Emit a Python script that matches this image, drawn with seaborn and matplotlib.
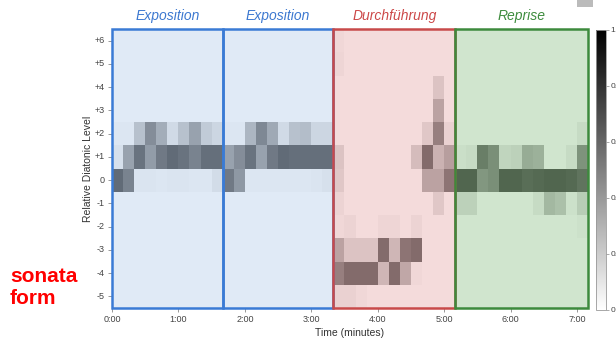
import numpy as np
import pandas as pd
import matplotlib
matplotlib.use("Agg")
import matplotlib.pyplot as plt
from matplotlib.patches import Rectangle
import seaborn as sns

sns.set_style("white")
plt.rcParams["font.family"] = ["Liberation Sans", "DejaVu Sans"]

# ---- data -----------------------------------------------------------
levels = ["+6", "+5", "+4", "+3", "+2", "+1", "0", "-1", "-2", "-3", "-4", "-5"]
bins_per_minute = 6
n_bins = 43

# intensity per level (rows, top to bottom) and time bin (10 s each)
row_p6 = [0]*20 + [0.02] + [0]*22
row_p5 = [0]*20 + [0.03] + [0]*22
row_p4 = [0]*29 + [0.12] + [0]*13
row_p3 = [0]*29 + [0.28] + [0]*13
row_p2 = ([0.02, 0.02, 0.2, 0.45, 0.3, 0.08, 0.2, 0.35, 0.15, 0.1]
          + [0.02, 0.02, 0.25, 0.48, 0.32, 0.08, 0.2, 0.22, 0.1, 0.1]
          + [0, 0, 0, 0, 0, 0, 0, 0, 0.1, 0.45, 0.05]
          + [0, 0, 0, 0, 0, 0, 0, 0, 0, 0, 0, 0.05])
row_p1 = ([0.05, 0.35, 0.58, 0.38, 0.55, 0.62, 0.58, 0.5, 0.6, 0.6]
          + [0.35, 0.45, 0.58, 0.35, 0.55, 0.62, 0.6, 0.6, 0.6, 0.6]
          + [0.12, 0, 0, 0, 0, 0, 0, 0.15, 0.55, 0.2, 0.3]
          + [0.03, 0.05, 0.5, 0.42, 0.08, 0.1, 0.28, 0.25, 0, 0, 0.05, 0.4])
row_0 = ([0.62, 0.5, 0.03, 0.03, 0.02, 0.03, 0.03, 0.02, 0.02, 0.07]
         + [0.55, 0.4, 0.02, 0.02, 0.02, 0.02, 0.02, 0.02, 0.03, 0.05]
         + [0.1, 0, 0, 0, 0, 0, 0, 0, 0.28, 0.28, 0.5]
         + [0.62, 0.62, 0.38, 0.42, 0.62, 0.62, 0.58, 0.6, 0.62, 0.62, 0.6, 0.55])
row_m1 = ([0]*20
          + [0.04, 0, 0, 0, 0, 0, 0, 0, 0, 0.1, 0]
          + [0.1, 0.1, 0, 0, 0, 0, 0, 0.05, 0.22, 0.18, 0.02, 0.12])
row_m2 = ([0]*20
          + [0.02, 0.04, 0, 0, 0.03, 0.03, 0, 0.04, 0, 0, 0]
          + [0]*11 + [0.02])
row_m3 = ([0]*20
          + [0.28, 0.12, 0.12, 0.12, 0.55, 0.18, 0.5, 0.55, 0, 0, 0]
          + [0]*12)
row_m4 = ([0]*20
          + [0.45, 0.55, 0.55, 0.55, 0.18, 0.55, 0.25, 0.02, 0, 0, 0]
          + [0]*12)
row_m5 = ([0]*20
          + [0.05, 0.05, 0.02, 0, 0, 0, 0, 0, 0, 0, 0]
          + [0]*12)

minute_ticks = [0, 1, 2, 3, 4, 5, 6, 7]
minute_labels = ["0:00", "1:00", "2:00", "3:00", "4:00", "5:00", "6:00", "7:00"]

section_names = ["Exposition", "Exposition", "Durchführung", "Reprise"]
section_start = [0, 10/6, 20/6, 31/6]      # minutes
section_end = [10/6, 20/6, 31/6, 43/6]
section_text_colors = ["#3c78d0", "#3c78d0", "#cc4848", "#3e8c3e"]
section_edge_colors = ["#3a7bd5", "#3a7bd5", "#c84a4a", "#3d8a3d"]
section_fill_colors = [(100/255, 150/255, 210/255, 0.2),
                       (100/255, 150/255, 210/255, 0.2),
                       (200/255, 75/255, 75/255, 0.2),
                       (20/255, 125/255, 10/255, 0.2)]

cbar_ticks = [0, 0.2, 0.4, 0.6, 0.8, 1]
cbar_labels = ["0", "0.2", "0.4", "0.6", "0.8", "1"]

# ---- figure -----------------------------------------------------------
matrix = [row_p6, row_p5, row_p4, row_p3, row_p2, row_p1, row_0,
          row_m1, row_m2, row_m3, row_m4, row_m5]
df = pd.DataFrame(matrix, index=levels, columns=range(n_bins))

fig = plt.figure(figsize=(6.16, 3.43), dpi=100)
ax = fig.add_axes([112/616, 1 - 308/343, 476/616, 279/343])
cax = fig.add_axes([596/616, 1 - 310/343, 10/616, 280/343])

sns.heatmap(df, ax=ax, cbar_ax=cax, cmap="gray_r", vmin=0, vmax=1)

tick_color = "#444444"
ax.set_xticks([m * bins_per_minute for m in minute_ticks])
ax.set_xticklabels(minute_labels, rotation=0, fontsize=6.5, color=tick_color)
ax.set_yticklabels(levels, rotation=0, fontsize=6.5, color=tick_color)
ax.tick_params(axis="both", length=3, width=0.6, color="#888888", pad=2,
               bottom=True, left=True)
ax.set_xlabel("Time (minutes)", fontsize=7.5, color="#333333", labelpad=3)
ax.set_ylabel("Relative Diatonic Level", fontsize=7.5, color="#333333", labelpad=1)

for name, s, e, tc, ec, fc in zip(section_names, section_start, section_end,
                                  section_text_colors, section_edge_colors,
                                  section_fill_colors):
    x0 = s * bins_per_minute
    w = (e - s) * bins_per_minute
    ax.add_patch(Rectangle((x0, 0), w, len(levels), facecolor=fc,
                           edgecolor="none", zorder=3))
    ax.add_patch(Rectangle((x0, 0), w, len(levels), facecolor="none",
                           edgecolor=ec, linewidth=1.8, zorder=4, clip_on=False))
    ax.text(x0 + w / 2, -0.55, name, ha="center", va="center", color=tc,
            fontsize=10, fontstyle="italic")

cbar = ax.collections[0].colorbar
cbar.set_ticks(cbar_ticks)
cbar.set_ticklabels(cbar_labels)
cbar.ax.tick_params(labelsize=6, length=2, width=0.5, color="#888888",
                    labelcolor=tick_color, pad=1)
cbar.outline.set_edgecolor("#999999")
cbar.outline.set_linewidth(0.6)

fig.text(10/616, 1 - 288/343, "sonata\nform", ha="left", va="center",
         color="#ff0000", fontsize=15, fontweight="bold", linespacing=1.2)

# small grey button at the top right of the screenshot
fig.patches.append(Rectangle((577/616, 1 - 7/343), 16/616, 7/343,
                             transform=fig.transFigure, facecolor="#bbbbbb",
                             edgecolor="none"))

fig.savefig("out.png", dpi=100)
